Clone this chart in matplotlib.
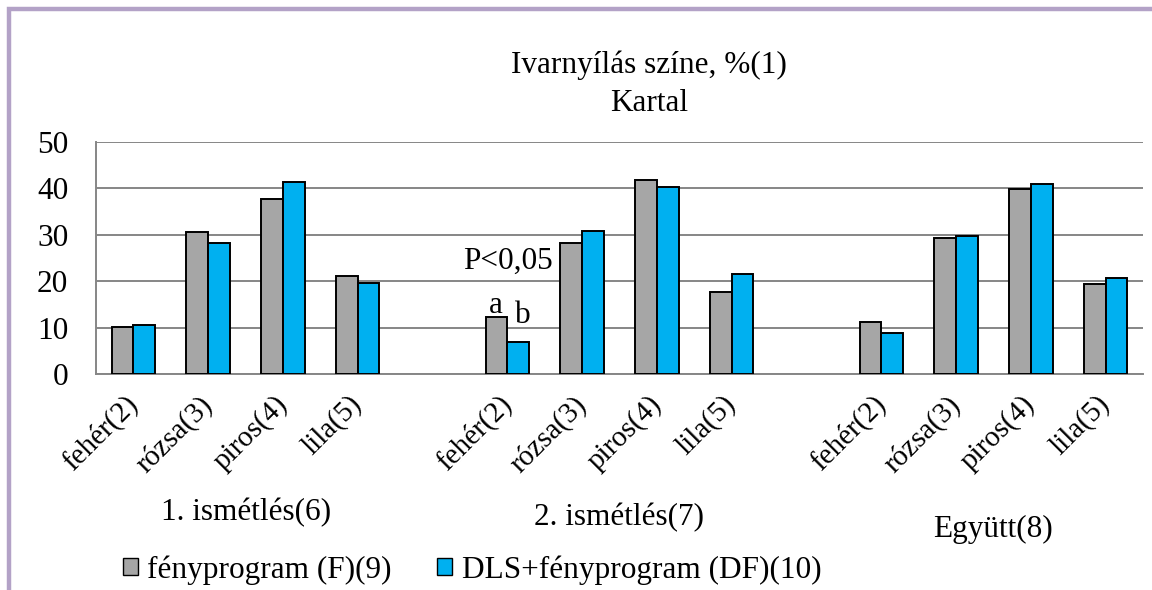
import matplotlib
matplotlib.use("Agg")
import matplotlib.pyplot as plt
import matplotlib.transforms as mtransforms
from matplotlib.patches import Rectangle, Patch

plt.rcParams['font.family'] = 'serif'
plt.rcParams['font.serif'] = ['Liberation Serif', 'DejaVu Serif']

# ---- data ----
title_lines = ["Ivarnyílás színe, %(1)", "Kartal"]
categories = ["fehér(2)", "rózsa(3)", "piros(4)", "lila(5)"]
groups = ["1. ismétlés(6)", "2. ismétlés(7)", "Együtt(8)"]
series_names = ["fényprogram (F)(9)", "DLS+fényprogram (DF)(10)"]
# values per group (fehér, rózsa, piros, lila)
f_values = [
    [10.2, 30.7, 37.8, 21.2],
    [12.2, 28.3, 41.8, 17.7],
    [11.3, 29.4, 39.8, 19.5],
]
df_values = [
    [10.6, 28.3, 41.4, 19.7],
    [6.9, 30.9, 40.3, 21.6],
    [8.8, 29.7, 40.9, 20.7],
]
y_ticks = [0, 10, 20, 30, 40, 50]
sig_text = "P<0,05"
sig_letters = ["a", "b"]

# ---- style ----
FS = 22.5
FS_TICK = 21
GREY = "#A6A6A6"
BLUE = "#00B0F0"
GRID = "#868686"
W, H = 1152, 590

fig = plt.figure(figsize=(W / 100, H / 100), dpi=100)
fig.patch.set_facecolor("white")

# purple frame (only top and left visible)
frame = Rectangle((9 / W, -0.2), 1.5, 1.2 - 8.5 / H,
                  transform=fig.transFigure, fill=False,
                  edgecolor="#B3A2C7", linewidth=3.2, zorder=0)
fig.patches.append(frame)

ax = fig.add_axes([96 / W, 1 - 374 / H, (1143 - 96) / W, (374 - 142) / H])

slot = 5  # 4 categories + 1 empty slot per group
bw = 0.29
x_pos, x_lab = [], []
for gi, g in enumerate(groups):
    xs = [gi * slot + ci for ci in range(len(categories))]
    ax.bar([x - bw / 2 for x in xs], f_values[gi], width=bw, color=GREY,
           edgecolor="black", linewidth=1.4, zorder=3)
    ax.bar([x + bw / 2 for x in xs], df_values[gi], width=bw, color=BLUE,
           edgecolor="black", linewidth=1.4, zorder=3)
    x_pos += xs
    x_lab += categories

ax.set_xlim(-0.5, len(groups) * slot - 1 - 0.5)
ax.set_ylim(0, 50)
ax.set_yticks(y_ticks)
ax.set_yticklabels([str(v) for v in y_ticks], fontsize=FS)
ax.set_xticks(x_pos)
ax.set_xticklabels(x_lab, fontsize=FS_TICK, rotation=45, ha="right",
                   va="center", rotation_mode="anchor")
ax.tick_params(axis="y", length=0, pad=20)
ax.tick_params(axis="x", length=0, pad=19)

ax.yaxis.grid(True, color=GRID, linewidth=1.4)
ax.set_axisbelow(True)
for s in ["top", "right"]:
    ax.spines[s].set_visible(False)
for s in ["left", "bottom"]:
    ax.spines[s].set_color(GRID)
    ax.spines[s].set_linewidth(1.4)

# group labels
blend = mtransforms.blended_transform_factory(ax.transData, fig.transFigure)
group_baselines = [520, 525, 537]
for gi, g in enumerate(groups):
    ax.text(gi * slot + 1.5, 1 - group_baselines[gi] / H, g, transform=blend,
            ha="center", va="baseline", fontsize=FS)

# significance annotation
ax.text(5.01, 24.2, sig_text, ha="center", va="center", fontsize=FS)
ax.text(4.85, 13.2, sig_letters[0], ha="center", va="baseline", fontsize=FS)
ax.text(5.21, 11.0, sig_letters[1], ha="center", va="baseline", fontsize=FS)

# title
fig.text(649 / W, 1 - 73 / H, title_lines[0], ha="center", va="baseline", fontsize=FS)
fig.text(649 / W, 1 - 111 / H, title_lines[1], ha="center", va="baseline", fontsize=FS)

# legend
handles = [Patch(facecolor=GREY, edgecolor="black", linewidth=1.0),
           Patch(facecolor=BLUE, edgecolor="black", linewidth=1.0)]
fig.legend(handles, series_names, loc="center left",
           bbox_to_anchor=(123 / W, 1 - 570 / H), ncol=2, frameon=False,
           fontsize=FS, handlelength=0.48, handleheight=0.48,
           handletextpad=0.3, columnspacing=1.45, borderpad=0,
           borderaxespad=0)

fig.savefig("out.png", dpi=100)
